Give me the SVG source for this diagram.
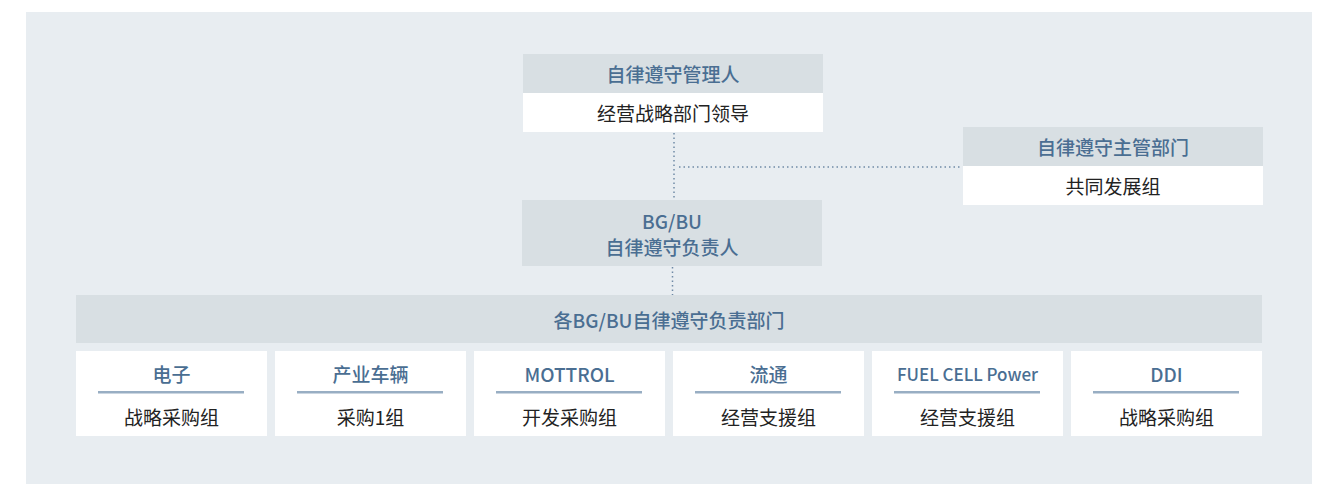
<svg xmlns="http://www.w3.org/2000/svg" width="1325" height="484" viewBox="0 0 1325 484">
<style>
text{font-family:"Noto Sans CJK SC","Noto Sans",sans-serif;font-size:19px;text-anchor:middle;dominant-baseline:central}
.hd{fill:#d8dfe3}
.wb{fill:#ffffff}
.t{fill:#4a6e92;font-weight:500}
.b{fill:#222222}
.dot{stroke:#6f8aa6;stroke-width:1.5;stroke-dasharray:1.5 3;fill:none}
.ul{stroke:#98aec3;stroke-width:2.5}
</style>
<rect x="0" y="0" width="1325" height="484" fill="#ffffff"/>
<rect x="26" y="12" width="1286" height="472" fill="#e8edf1"/>
<g id="connectors">
<line class="dot" x1="674" y1="133" x2="674" y2="200"/>
<line class="dot" x1="679" y1="167" x2="960" y2="167"/>
<line class="dot" x1="672.5" y1="267" x2="672.5" y2="295"/>
</g>
<g id="manager">
<rect class="hd" x="523" y="54" width="300" height="39"/>
<rect class="wb" x="523" y="93" width="300" height="39"/>
<text class="t" x="673" y="73.5">自律遵守管理人</text>
<text class="b" x="673" y="112.5">经营战略部门领导</text>
</g>
<g id="dept">
<rect class="hd" x="963" y="127" width="300" height="39"/>
<rect class="wb" x="963" y="166" width="300" height="39"/>
<text class="t" x="1113" y="146.5">自律遵守主管部门</text>
<text class="b" x="1113" y="185.5">共同发展组</text>
</g>
<g id="bgbu">
<rect class="hd" x="522" y="200" width="300" height="66"/>
<text class="t" x="672" y="220">BG/BU</text>
<text class="t" x="672" y="246">自律遵守负责人</text>
</g>
<g id="bgbu-depts">
<rect class="hd" x="76" y="295" width="1186" height="48"/>
<text class="t" x="669" y="319">各BG/BU自律遵守负责部门</text>
</g>
<g id="card1">
<rect class="wb" x="76" y="351" width="191" height="85"/>
<text class="t" x="171.5" y="373">电子</text>
<line class="ul" x1="98" y1="392.3" x2="244" y2="392.3"/>
<text class="b" x="171.5" y="416.5">战略采购组</text>
</g>
<g id="card2">
<rect class="wb" x="275" y="351" width="191" height="85"/>
<text class="t" x="370.5" y="373">产业车辆</text>
<line class="ul" x1="297" y1="392.3" x2="443" y2="392.3"/>
<text class="b" x="370.5" y="416.5">采购1组</text>
</g>
<g id="card3">
<rect class="wb" x="474" y="351" width="191" height="85"/>
<text class="t" x="569.5" y="373">MOTTROL</text>
<line class="ul" x1="496" y1="392.3" x2="642" y2="392.3"/>
<text class="b" x="569.5" y="416.5">开发采购组</text>
</g>
<g id="card4">
<rect class="wb" x="673" y="351" width="191" height="85"/>
<text class="t" x="768.5" y="373">流通</text>
<line class="ul" x1="695" y1="392.3" x2="841" y2="392.3"/>
<text class="b" x="768.5" y="416.5">经营支援组</text>
</g>
<g id="card5">
<rect class="wb" x="872" y="351" width="191" height="85"/>
<text class="t" x="967.5" y="373" style="font-size:17px">FUEL CELL Power</text>
<line class="ul" x1="894" y1="392.3" x2="1040" y2="392.3"/>
<text class="b" x="967.5" y="416.5">经营支援组</text>
</g>
<g id="card6">
<rect class="wb" x="1071" y="351" width="191" height="85"/>
<text class="t" x="1166.5" y="373">DDI</text>
<line class="ul" x1="1093" y1="392.3" x2="1239" y2="392.3"/>
<text class="b" x="1166.5" y="416.5">战略采购组</text>
</g>
</svg>
